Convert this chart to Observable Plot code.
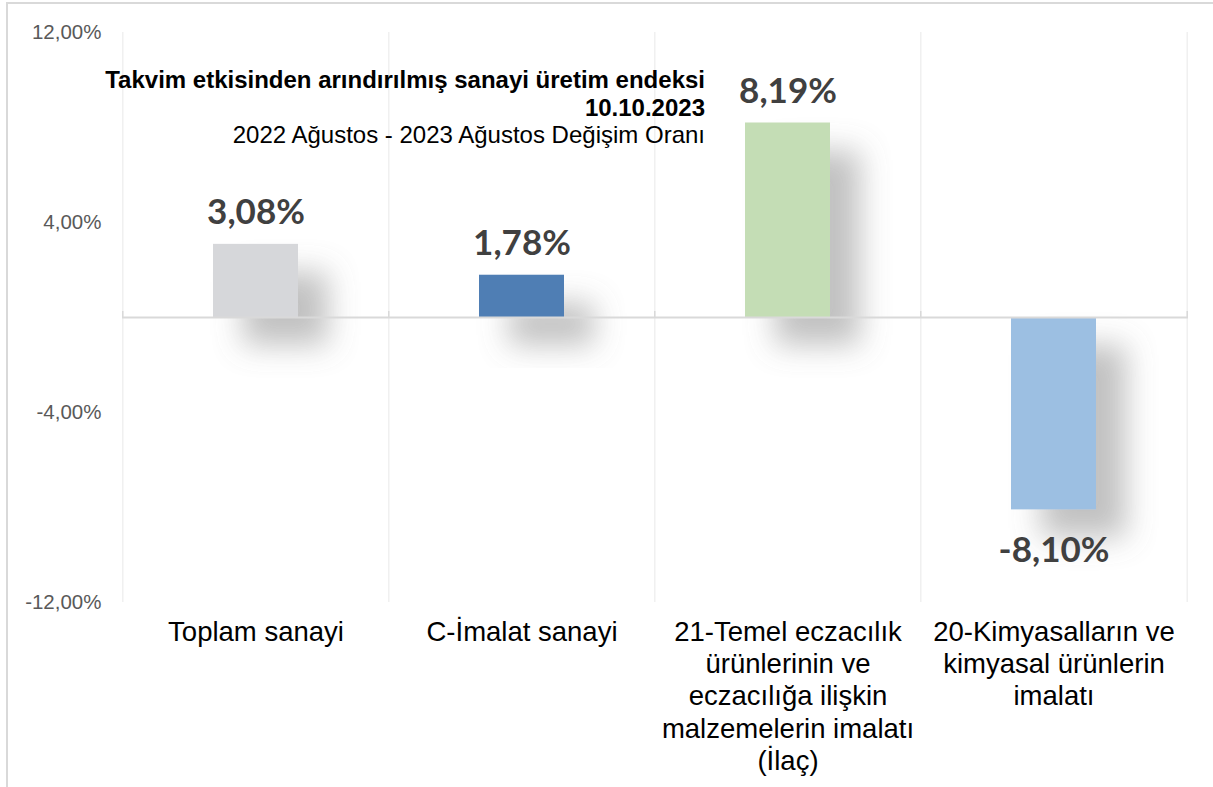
<!DOCTYPE html>
<html><head><meta charset="utf-8">
<script src="https://cdn.jsdelivr.net/npm/d3@7"></script>
<script src="https://cdn.jsdelivr.net/npm/@observablehq/plot@0.6"></script>
<style>
body{margin:0;background:#fff;font-family:"Liberation Sans",Arial,sans-serif;}
#wrap{position:relative;width:1213px;height:787px;overflow:hidden;background:#fff;}
#frame{position:absolute;left:6px;top:2px;width:1230px;height:820px;border-left:2px solid #d9d9d9;border-top:2px solid #d9d9d9;pointer-events:none;}
#chart{position:absolute;left:0;top:0;}
#title{position:absolute;right:508px;top:66px;text-align:right;font-size:24px;line-height:27.5px;color:#000;white-space:nowrap;}
#title b{font-weight:700;}
</style></head>
<body>
<div id="wrap">
  <div id="chart"></div>
  <div id="frame"></div>
  <div id="title"><b>Takvim etkisinden arındırılmış sanayi üretim endeksi</b><br><b>10.10.2023</b><br>2022 Ağustos - 2023 Ağustos Değişim Oranı</div>
</div>
<script>
const categories = ["Toplam sanayi", "C-İmalat sanayi", "21-Temel eczacılık ürünlerinin ve eczacılığa ilişkin malzemelerin imalatı (İlaç)", "20-Kimyasalların ve kimyasal ürünlerin imalatı"];
const tickLabels = ["Toplam sanayi", "C-İmalat sanayi", "21-Temel eczacılık\nürünlerinin ve\neczacılığa ilişkin\nmalzemelerin imalatı\n(İlaç)", "20-Kimyasalların ve\nkimyasal ürünlerin\nimalatı"];
const values = [3.08, 1.78, 8.19, -8.10];
const barColors = ["#d6d7da", "#4f7eb4", "#c4ddb5", "#9cbfe2"];
const yTicks = [-12, -4, 4, 12];

const data = categories.map((c, i) => ({cat: c, value: values[i], color: barColors[i]}));
const fmt = v => v.toFixed(2).replace(".", ",") + "%";

const W = 1213, H = 787, ML = 122, MR = 25, MT = 32, MB = 185;
const step = (W - ML - MR) / categories.length;

const svg = Plot.plot({
  width: W, height: H,
  marginLeft: ML, marginRight: MR, marginTop: MT, marginBottom: MB,
  style: {fontFamily: "'Liberation Sans', Arial, sans-serif", background: "transparent", overflow: "visible"},
  x: {domain: categories, paddingInner: 0.68, paddingOuter: 0.34},
  y: {domain: [-12, 12]},
  color: {type: "identity"},
  marks: [
    Plot.ruleX(categories, {x: d => d, dx: -step / 2, stroke: "#f0f0f0", strokeWidth: 1.5}),
    Plot.ruleX([categories[categories.length - 1]], {x: d => d, dx: step / 2, stroke: "#f0f0f0", strokeWidth: 1.5}),
    Plot.barY(data, {x: "cat", y: "value", fill: "color", className: "bars"}),
    Plot.ruleY([0], {stroke: "#d9d9d9", strokeWidth: 1.8}),
    Plot.ruleX(categories, {x: d => d, dx: -step / 2, y1: 0, y2: 0, insetTop: -6, stroke: "#d9d9d9", strokeWidth: 1.5}),
    Plot.ruleX([categories[categories.length - 1]], {x: d => d, dx: step / 2, y1: 0, y2: 0, insetTop: -6, stroke: "#d9d9d9", strokeWidth: 1.5}),
    Plot.axisY({ticks: yTicks, tickFormat: fmt, tickSize: 0, tickPadding: 21, fontSize: 20.5, color: "#595959", label: null}),
    Plot.axisX({tickSize: 0, tickPadding: 15, fontSize: 27.5, lineHeight: 1.18, color: "#000", label: null,
      tickFormat: d => tickLabels[categories.indexOf(d)]}),
    Plot.text(data.filter(d => d.value >= 0), {x: "cat", y: "value", text: d => fmt(d.value), lineAnchor: "bottom", dy: -20,
      fontFamily: "Lato", fontWeight: 700, fontSize: 35, fill: "#404040"}),
    Plot.text(data.filter(d => d.value < 0), {x: "cat", y: "value", text: d => fmt(d.value), lineAnchor: "top", dy: 27,
      fontFamily: "Lato", fontWeight: 700, fontSize: 35, fill: "#404040"})
  ]
});

const s = d3.select(svg);
const defs = s.insert("defs", ":first-child");
const f = defs.append("filter").attr("id", "shadow")
  .attr("x", "-80%").attr("y", "-80%").attr("width", "300%").attr("height", "300%");
f.append("feDropShadow").attr("dx", 30).attr("dy", 28).attr("stdDeviation", 15)
  .attr("flood-color", "#777777").attr("flood-opacity", 0.45);
s.selectAll(".bars rect").attr("filter", "url(#shadow)");

document.getElementById("chart").appendChild(svg);
</script>
</body></html>
